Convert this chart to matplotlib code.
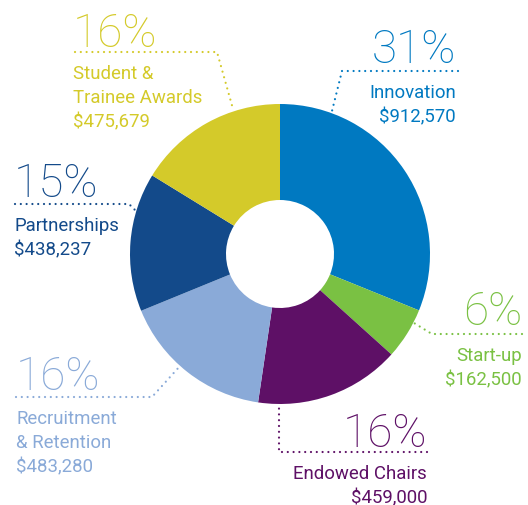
import matplotlib
matplotlib.use("Agg")
import matplotlib.pyplot as plt

# Funding breakdown (clockwise from the top)
categories = ["Innovation", "Start-up", "Endowed Chairs",
              "Recruitment\n& Retention", "Partnerships",
              "Student &\nTrainee Awards"]
amounts = [912570, 162500, 459000, 483280, 438237, 475679]
colors = ["#0079c1", "#7ac143", "#5e1066", "#8aaad8", "#134a8a", "#d4ca2a"]

total = sum(amounts)
pcts = [round(100 * a / total) for a in amounts]

W, H = 528, 506
Y = lambda y: H - y  # pixel rows measured from top

plt.rcParams["font.family"] = ["Roboto", "DejaVu Sans"]

fig = plt.figure(figsize=(W / 100, H / 100), dpi=100)
ax = fig.add_axes([0, 0, 1, 1])
ax.axis("off")

ax.pie(amounts, colors=colors, startangle=90, counterclock=False,
       center=(280, Y(255)), radius=150,
       wedgeprops={"width": 150 - 54, "linewidth": 0})
ax.set_xlim(0, W)
ax.set_ylim(0, H)
ax.set_aspect("equal")

# label layout: (x, top of pct, align, leader path starting at text side)
layout = [
    (456, 28, "right", [(458, 72), (342, 72), (331, 116)]),
    (522, 290, "right", [(522, 335), (432, 335), (414, 324)]),
    (427, 412, "right", [(427, 453), (279, 453), (279, 406)]),
    (16, 355, "left", [(16, 398), (152, 398), (180, 367)]),
    (14, 162, "left", [(15, 205), (129, 205), (136, 212)]),
    (73, 12, "left", [(75, 53), (217, 53), (233, 110)]),
]

for i, (x, top, ha, path) in enumerate(layout):
    c = colors[i]
    ax.text(x, Y(top), "{}%".format(pcts[i]), color=c, fontsize=33,
            fontweight="light", ha=ha, va="top")
    xs = [p[0] for p in path]
    ys = [Y(p[1]) for p in path]
    ax.plot(xs, ys, color=c, linestyle=(0, (0.01, 2.6)), linewidth=1.6,
            dash_capstyle="round", solid_capstyle="round")
    label = categories[i] + "\n${:,}".format(amounts[i])
    ax.text(x, Y(path[0][1] + 12), label, color=c, fontsize=13.4,
            ha=ha, va="top", linespacing=1.42)

fig.savefig("out.png", dpi=100)
